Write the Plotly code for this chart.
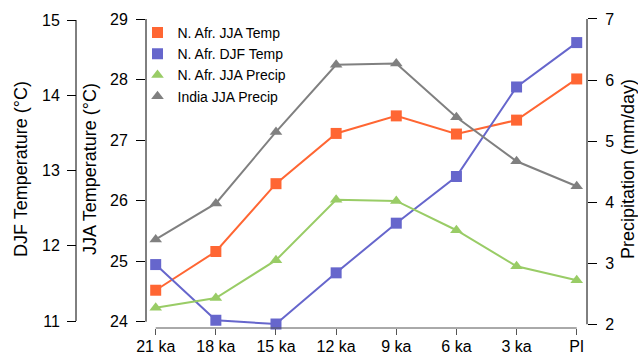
import plotly.graph_objects as go

# ---- data ----
periods = ["21 ka", "18 ka", "15 ka", "12 ka", "9 ka", "6 ka", "3 ka", "PI"]
nafr_jja_temp = [24.52, 25.16, 26.28, 27.11, 27.40, 27.10, 27.33, 28.01]
nafr_djf_temp = [11.75, 11.01, 10.96, 11.64, 12.30, 12.92, 14.11, 14.70]
nafr_jja_precip = [2.27, 2.43, 3.05, 4.04, 4.02, 3.54, 2.95, 2.72]
india_jja_precip = [3.39, 3.98, 5.15, 6.25, 6.27, 5.39, 4.67, 4.26]

djf_ticks = [11, 12, 13, 14, 15]
jja_ticks = [24, 25, 26, 27, 28, 29]
precip_ticks = [2, 3, 4, 5, 6, 7]

series_names = ["N. Afr. JJA Temp", "N. Afr. DJF Temp", "N. Afr. JJA Precip", "India JJA Precip"]
colors = ["#FF6633", "#6666CC", "#99CC66", "#808080"]
symbols = ["square", "square", "triangle-up", "triangle-up"]
axes = ["y", "y2", "y3", "y3"]
values = [nafr_jja_temp, nafr_djf_temp, nafr_jja_precip, india_jja_precip]

W, H = 638, 353
FONT = "Liberation Sans, Arial, Helvetica, sans-serif"

fig = go.Figure()
for name, col, sym, ax, vals in zip(series_names, colors, symbols, axes, values):
    fig.add_trace(go.Scatter(
        x=periods, y=vals, yaxis=ax, mode="lines+markers",
        line=dict(color=col, width=2),
        marker=dict(symbol=sym, size=11, color=col),
        showlegend=False, cliponaxis=False, name=name,
    ))
# legend entries (markers only, as in the reference)
for name, col, sym in zip(series_names, colors, symbols):
    fig.add_trace(go.Scatter(
        x=[None], y=[None], mode="markers", name=name,
        marker=dict(symbol=sym, size=11, color=col), showlegend=True,
    ))

x_dom = [146 / W, 587 / W]
y_dom = [(H - 328) / H, (H - 10) / H]
tickfont = dict(family=FONT, size=16, color="black")
titlefont = dict(family=FONT, size=18, color="black")

common = dict(showgrid=False, zeroline=False, showline=False, automargin=False,
              ticks="outside", tickwidth=1)

fig.update_layout(
    width=W, height=H,
    margin=dict(l=0, r=0, t=0, b=0, autoexpand=False),
    paper_bgcolor="white", plot_bgcolor="white",
    font=dict(family=FONT, color="black"),
    xaxis=dict(
        domain=x_dom, type="category", range=[-0.1613, 7.171],
        ticklen=6, tickcolor="#555555", tickfont=tickfont, ticklabelstandoff=-2,
        **common,
    ),
    yaxis=dict(
        domain=y_dom, range=[23.896, 29.149], tickvals=jja_ticks,
        ticklen=9, tickcolor="black", tickfont=tickfont, ticklabelstandoff=5,
        **common,
        title=dict(text="JJA Temperature (°C)", font=titlefont, standoff=8),
    ),
    yaxis2=dict(
        domain=y_dom, range=[10.907, 15.133], tickvals=djf_ticks,
        overlaying="y", anchor="free", position=76 / W, side="left",
        ticklen=9, tickcolor="black", tickfont=tickfont, ticklabelstandoff=4,
        **common,
        title=dict(text="DJF Temperature (°C)", font=titlefont, standoff=8),
    ),
    yaxis3=dict(
        domain=y_dom, range=[1.939, 7.147], tickvals=precip_ticks,
        overlaying="y", anchor="x", side="right",
        ticklen=9, tickcolor="black", tickfont=tickfont, ticklabelstandoff=5,
        **common,
        title=dict(text="Precipitation (mm/day)", font=titlefont, standoff=10),
    ),
    legend=dict(
        x=137.5 / W, y=(H - 17) / H, xanchor="left", yanchor="top",
        bgcolor="rgba(0,0,0,0)", font=dict(family=FONT, size=14, color="black"),
        itemwidth=30,
    ),
)

# R-style axis lines spanning only the tick range
fig.add_shape(type="line", xref="paper", x0=76 / W, x1=76 / W, yref="y2",
              y0=djf_ticks[0], y1=djf_ticks[-1], line=dict(color="black", width=1))
fig.add_shape(type="line", xref="paper", x0=x_dom[0], x1=x_dom[0], yref="y",
              y0=jja_ticks[0], y1=jja_ticks[-1], line=dict(color="black", width=1))
fig.add_shape(type="line", xref="paper", x0=x_dom[1], x1=x_dom[1], yref="y3",
              y0=precip_ticks[0], y1=precip_ticks[-1], line=dict(color="black", width=1))
fig.add_shape(type="line", xref="x", x0=periods[0], x1=periods[-1], yref="paper",
              y0=y_dom[0], y1=y_dom[0], line=dict(color="#555555", width=1))

fig.write_html("out.html", config={"displayModeBar": False},
               post_script="document.body.style.margin='0';document.body.style.overflow='hidden';")
